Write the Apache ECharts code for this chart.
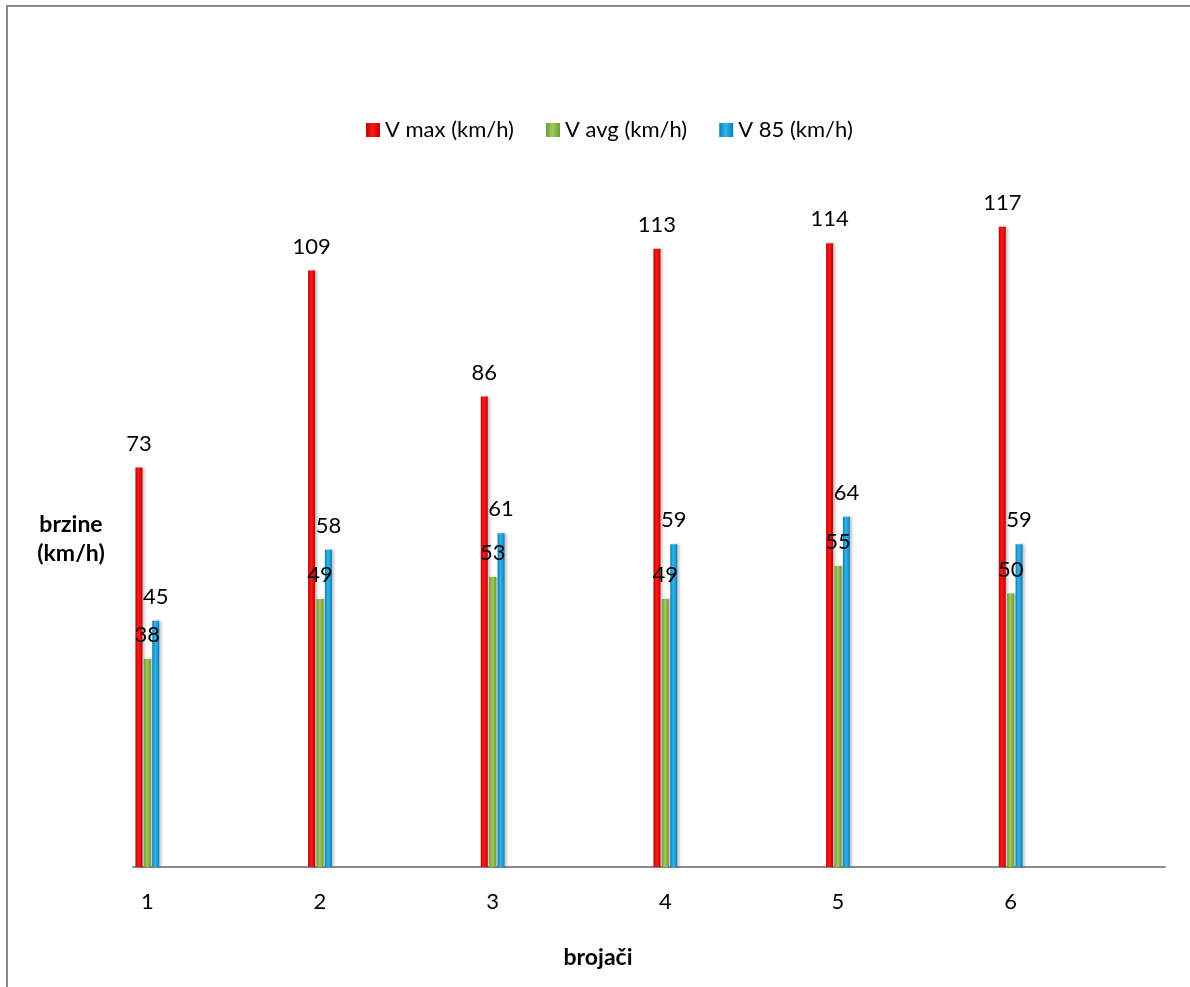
<!DOCTYPE html>
<html>
<head>
<meta charset="utf-8">
<script src="https://cdn.jsdelivr.net/npm/echarts@6/dist/echarts.min.js"></script>
<style>
  html, body { margin: 0; padding: 0; background: #fff; }
  #chart { width: 1190px; height: 987px; }
</style>
</head>
<body>
<div id="chart"></div>
<script>
// Counter stations and measured speeds
const categories = ['1', '2', '3', '4', '5', '6'];
const vMax = [73, 109, 86, 113, 114, 117];
const vAvg = [38, 49, 53, 49, 55, 50];
const v85 = [45, 58, 61, 59, 64, 59];
const seriesNames = ['V max (km/h)', 'V avg (km/h)', 'V 85 (km/h)'];

const FONT = 'Lato, "Open Sans", sans-serif';

// Cylinder-like shading across each bar
function shade(dark, light) {
  return new echarts.graphic.LinearGradient(0, 0, 1, 0, [
    { offset: 0, color: dark },
    { offset: 0.45, color: light },
    { offset: 1, color: dark }
  ]);
}

const palette = [
  shade('#c00000', '#ff1a1a'),
  shade('#6f9a34', '#9fcb5e'),
  shade('#0a7fb8', '#2fb6ec')
];

function barSeries(name, values, idx) {
  return {
    name: name,
    type: 'bar',
    xAxisIndex: 0,
    yAxisIndex: 0,
    barWidth: 7,
    barGap: '20%',
    data: values,
    itemStyle: {
      color: palette[idx],
      shadowColor: 'rgba(0,0,0,0.25)',
      shadowBlur: 3,
      shadowOffsetX: 2
    },
    label: {
      show: true,
      position: 'top',
      distance: 13,
      color: '#000',
      fontFamily: FONT,
      fontSize: 22
    }
  };
}

const chart = echarts.init(document.getElementById('chart'), null, { renderer: 'canvas' });

chart.setOption({
  backgroundColor: '#ffffff',
  animation: false,
  color: palette,
  title: [
    {
      text: 'brojači',
      left: 593, top: 941,
      textAlign: 'center',
      textStyle: { fontFamily: FONT, fontSize: 23, fontWeight: 'bold', color: '#000' }
    },
    {
      text: 'brzine\n(km/h)',
      left: 66, top: 505,
      textAlign: 'center',
      textStyle: { fontFamily: FONT, fontSize: 23, fontWeight: 'bold', color: '#000', lineHeight: 29 }
    }
  ],
  legend: {
    left: 361, top: 114,
    itemWidth: 14, itemHeight: 14,
    itemGap: 32,
    icon: 'rect',
    textStyle: { fontFamily: FONT, fontSize: 22, color: '#000' },
    data: seriesNames
  },
  graphic: [
    {
      type: 'rect',
      shape: { x: 7, y: 6, width: 1200, height: 1000 },
      style: { fill: 'none', stroke: '#8a8a8a', lineWidth: 2 },
      silent: true,
      z: 0
    }
  ],
  grid: [
    { left: 61, right: 93, top: 101, bottom: 120 },
    { left: 133, right: 25, top: 101, bottom: 120 }
  ],
  xAxis: [
    {
      type: 'category',
      gridIndex: 0,
      data: categories,
      axisLine: { show: false },
      axisTick: { show: false },
      axisLabel: { margin: 24, fontFamily: FONT, fontSize: 22, color: '#000' }
    },
    {
      type: 'value',
      gridIndex: 1,
      min: 0, max: 1,
      axisLine: { show: true, lineStyle: { color: '#8c8c8c', width: 2 } },
      axisTick: { show: false },
      axisLabel: { show: false },
      splitLine: { show: false }
    }
  ],
  yAxis: [
    {
      type: 'value',
      gridIndex: 0,
      min: 0, max: 140,
      show: false,
      splitLine: { show: false }
    },
    {
      type: 'value',
      gridIndex: 1,
      min: 0, max: 1,
      show: false,
      splitLine: { show: false }
    }
  ],
  series: [
    barSeries(seriesNames[0], vMax, 0),
    barSeries(seriesNames[1], vAvg, 1),
    barSeries(seriesNames[2], v85, 2)
  ]
});
</script>
</body>
</html>
